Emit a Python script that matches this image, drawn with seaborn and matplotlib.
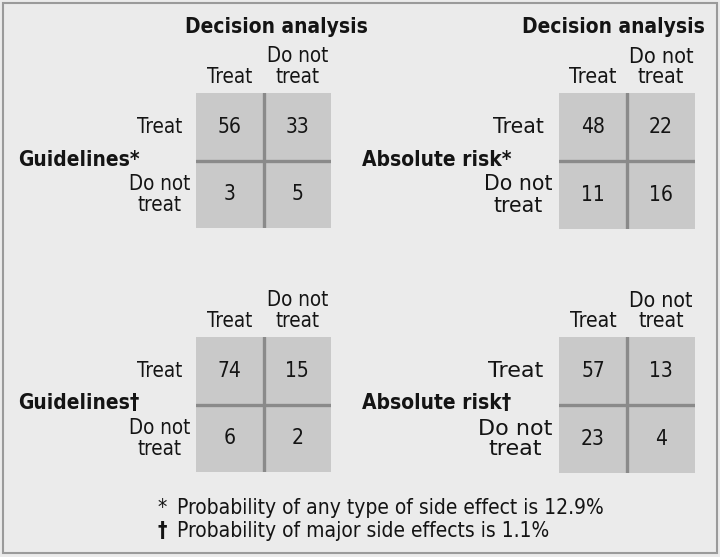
import numpy as np
import pandas as pd
import seaborn as sns
import matplotlib
matplotlib.use("Agg")
import matplotlib.pyplot as plt
from matplotlib.colors import ListedColormap
from matplotlib.patches import Rectangle

# ---- data ----
col_labels = ["Treat", "Do not\ntreat"]
row_labels = ["Treat", "Do not\ntreat"]
header = "Decision analysis"
panel_titles = ["Guidelines*", "Absolute risk*", "Guidelines\u2020", "Absolute risk\u2020"]
guidelines_any = [[56, 33], [3, 5]]
absrisk_any = [[48, 22], [11, 16]]
guidelines_major = [[74, 15], [6, 2]]
absrisk_major = [[57, 13], [23, 4]]
footnote_marks = ["*", "\u2020"]
footnotes = ["Probability of any type of side effect is 12.9%",
             "Probability of major side effects is 1.1%"]

sns.set_style("white")
plt.rcParams["font.family"] = ["DejaVu Sans"]
plt.rcParams["font.stretch"] = "condensed"

W, H = 720, 557
fig = plt.figure(figsize=(W / 100, H / 100), dpi=100)
fig.patch.set_facecolor("#ebebeb")
bg = fig.add_axes([0, 0, 1, 1])
bg.set_xlim(0, W)
bg.set_ylim(H, 0)
bg.axis("off")
bg.add_patch(Rectangle((3, 3), W - 6, H - 7, fill=False, ec="#9a9a9a", lw=1.5))

cell_cmap = ListedColormap(["#c9c9c9"])
TXT = "#141414"
DIV = "#8a8a8a"


def panel(data, x0, y0, size, title, title_x, title_y,
          col_fs=15, row_fs=15, row_pad=26, row_stretch="condensed"):
    ax = fig.add_axes([x0 / W, 1 - (y0 + size) / H, size / W, size / H])
    df = pd.DataFrame(data, index=row_labels, columns=col_labels)
    sns.heatmap(df, ax=ax, cmap=cell_cmap, cbar=False, annot=True, fmt="d",
                annot_kws={"fontsize": 15, "color": TXT, "fontstretch": "condensed"},
                linewidths=0)
    ax.axvline(1, color=DIV, lw=2.4)
    ax.axhline(1, color=DIV, lw=2.4)
    ax.xaxis.tick_top()
    ax.set_xticklabels(col_labels, rotation=0, ha="center", va="bottom",
                       fontsize=col_fs, color=TXT, linespacing=1.05 * 15 / col_fs,
                       fontstretch="condensed")
    ax.set_yticklabels(row_labels, rotation=0, ha="center", va="center",
                       fontsize=row_fs, color=TXT, linespacing=1.05 * 15 / row_fs,
                       multialignment="center", fontstretch=row_stretch)
    ax.tick_params(axis="x", length=0, pad=4)
    ax.tick_params(axis="y", length=0, pad=row_pad)
    ax.set_xlabel("")
    ax.set_ylabel("")
    for s in ax.spines.values():
        s.set_visible(False)
    bg.text(title_x, title_y, title, ha="left", va="center", fontsize=15,
            fontweight="bold", color=TXT, fontstretch="condensed")
    return ax


panel(guidelines_any, 196, 93, 135, panel_titles[0], 18, 160,
      col_fs=14.8, row_fs=14.8, row_pad=26)
panel(absrisk_any, 559, 93, 136, panel_titles[1], 362, 160,
      col_fs=15.5, row_fs=14.8, row_pad=29.5, row_stretch="normal")
panel(guidelines_major, 196, 337, 135, panel_titles[2], 18, 403,
      col_fs=14.8, row_fs=14.8, row_pad=26)
panel(absrisk_major, 559, 337, 136, panel_titles[3], 362, 403,
      col_fs=15.2, row_fs=16, row_pad=31.5, row_stretch="normal")

bg.text(276, 27, header, ha="center", va="center", fontsize=15,
        fontweight="bold", color=TXT, fontstretch="condensed")
bg.text(613, 27, header, ha="center", va="center", fontsize=15,
        fontweight="bold", color=TXT, fontstretch="condensed")

bg.text(158, 508, footnote_marks[0], ha="left", va="center", fontsize=15,
        color=TXT, fontstretch="condensed")
bg.text(177, 508, footnotes[0], ha="left", va="center", fontsize=15, color=TXT,
        fontstretch="condensed")
bg.text(158, 531, footnote_marks[1], ha="left", va="center", fontsize=15,
        fontweight="bold", color=TXT, fontstretch="condensed")
bg.text(177, 531, footnotes[1], ha="left", va="center", fontsize=15, color=TXT,
        fontstretch="condensed")

fig.savefig("out.png", dpi=100, facecolor=fig.get_facecolor())
